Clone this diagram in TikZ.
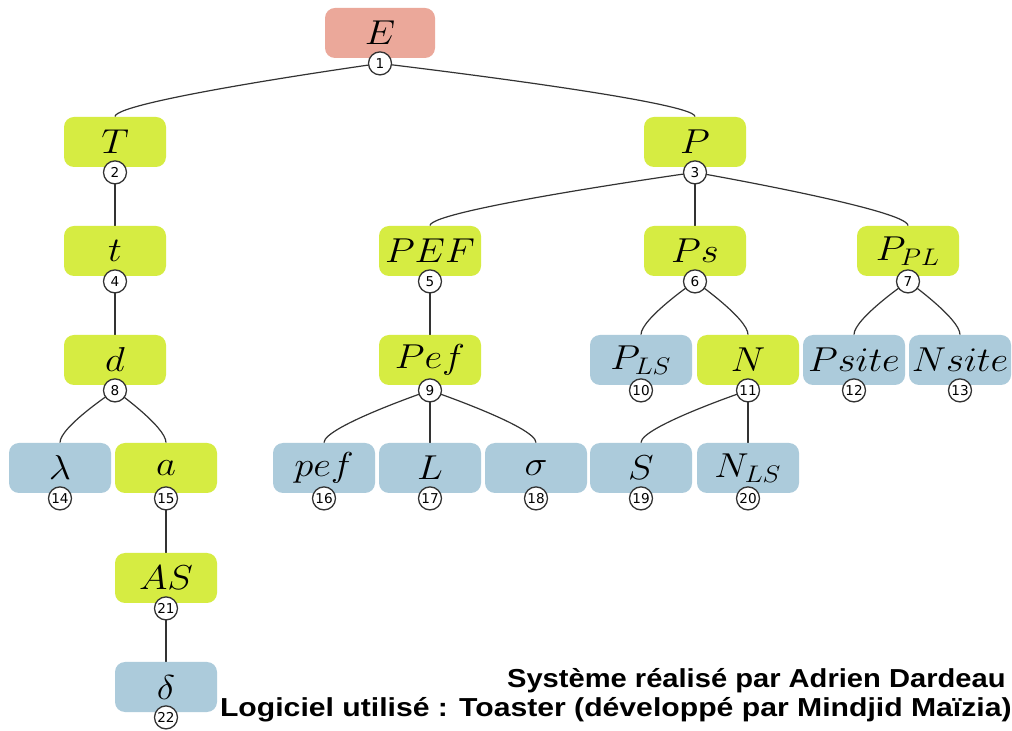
\documentclass[tikz,border=0pt]{standalone}
\usepackage{fontspec}
\newfontfamily\creditfont{Liberation Sans}
\newfontfamily\numfont{DejaVu Sans}
\definecolor{rootcol}{RGB}{235,168,154}
\definecolor{ntcol}{RGB}{214,236,66}
\definecolor{tcol}{RGB}{172,203,219}
\pgfdeclarelayer{background}
\pgfsetlayers{background,main}
\tikzset{
  box/.style={rectangle, rounded corners=5pt, minimum width=51pt, minimum height=25pt,
              inner sep=0pt, font=\fontsize{17}{17}\selectfont},
  rootbox/.style={box, fill=rootcol, minimum width=55pt},
  ntbox/.style={box, fill=ntcol},
  tbox/.style={box, fill=tcol},
  num/.style={circle, draw=black!80, fill=white, line width=0.65pt, minimum size=11.5pt,
              inner sep=0pt, font=\numfont\fontsize{6.8}{6.8}\selectfont},
  link/.style={draw=black!80, line width=0.6pt},
  credit/.style={anchor=east, inner sep=0pt, font=\creditfont\bfseries\fontsize{13}{13}\selectfont}
}
% a tree node: box with its symbol, and a numbered circle on its lower edge
\newcommand\treenode[5]{%
  \node[#3] (#1) at (#2) {\scalebox{1.12}[1]{$#4$}};
  \node[num] (#1n) at ([yshift=-2.5pt]#1.south) {#5};
}
% a connector from a parent's circle down to a child's box, drawn behind the nodes
\newcommand\treelink[2]{%
  \begin{pgfonlayer}{background}
  \draw[link] (#1n.center) .. controls (#1n.center) and +(0,-16) .. (#2.north);
  \end{pgfonlayer}
}
\begin{document}
\begin{tikzpicture}[x=0.5pt,y=-0.5pt]
\begin{pgfonlayer}{background}
\useasboundingbox (0,0) rectangle (1012,731);
\fill[white] (0,0) rectangle (1012,731);
\end{pgfonlayer}

% level 1
\treenode{E}{380,33}{rootbox}{E}{1}
% level 2
\treenode{T}{115,142}{ntbox}{T}{2}
\treenode{P}{695,142}{ntbox}{P}{3}
% level 3
\treenode{t}{115,251}{ntbox}{t}{4}
\treenode{PEF}{430,251}{ntbox}{PEF}{5}
\treenode{Ps}{695,251}{ntbox}{Ps}{6}
\treenode{PPL}{908,251}{ntbox}{P_{PL}}{7}
% level 4
\treenode{d}{115,360}{ntbox}{d}{8}
\treenode{Pef}{430,360}{ntbox}{Pef}{9}
\treenode{PLS}{641,360}{tbox}{P_{LS}}{10}
\treenode{N}{748,360}{ntbox}{N}{11}
\treenode{Psite}{854,360}{tbox}{Psite}{12}
\treenode{Nsite}{960,360}{tbox}{Nsite}{13}
% level 5
\treenode{lam}{60,468}{tbox}{\lambda}{14}
\treenode{a}{166,468}{ntbox}{a}{15}
\treenode{pef}{324,468}{tbox}{pef}{16}
\treenode{L}{430,468}{tbox}{L}{17}
\treenode{sig}{536,468}{tbox}{\sigma}{18}
\treenode{S}{641,468}{tbox}{S}{19}
\treenode{NLS}{748,468}{tbox}{N_{LS}}{20}
% levels 6 and 7
\treenode{AS}{166,578}{ntbox}{AS}{21}
\treenode{del}{166,687}{tbox}{\delta}{22}

% connectors
\treelink{E}{T}
\treelink{E}{P}
\treelink{T}{t}
\treelink{t}{d}
\treelink{d}{lam}
\treelink{d}{a}
\treelink{a}{AS}
\treelink{AS}{del}
\treelink{P}{PEF}
\treelink{P}{Ps}
\treelink{P}{PPL}
\treelink{PEF}{Pef}
\treelink{Pef}{pef}
\treelink{Pef}{L}
\treelink{Pef}{sig}
\treelink{Ps}{PLS}
\treelink{Ps}{N}
\treelink{N}{S}
\treelink{N}{NLS}
\treelink{PPL}{Psite}
\treelink{PPL}{Nsite}

% credits, stretched sideways like the original lettering
\node[credit] (c1) at (1006,681) {\scalebox{1.12}[1]{Système réalisé par Adrien Dardeau}};
\node[credit] (c2) at (1012,710) {\scalebox{1.16}[1]{Logiciel utilisé : Toaster (développé par Mindjid Maïzia)}};
\end{tikzpicture}
\end{document}
